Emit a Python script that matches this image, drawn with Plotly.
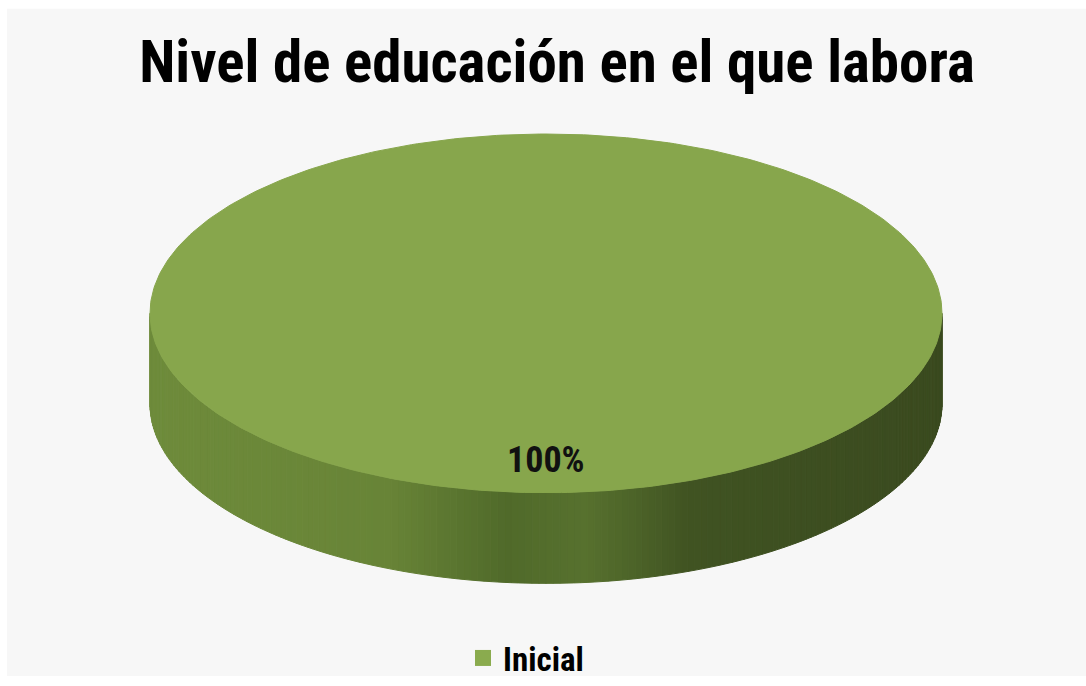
import numpy as np
import plotly.graph_objects as go

# ---- data ----
labels = ["Inicial"]
values = [100]
slice_colors = ["#87a64c"]
legend_colors = ["#8aab4e"]
title_text = "Nivel de educación en el que labora"

# ---- geometry / style (pixel space) ----
W, H = 1086, 686
cx, cy, rx, ry, depth = 546, 318, 396, 182, 92
FONT = "Liberation Sans Narrow, Arial Narrow, Roboto Condensed, Liberation Sans, sans-serif"

shade_stops = [(0.0, (0x6e, 0x8b, 0x3b)), (0.30, (0x68, 0x84, 0x37)),
               (0.45, (0x50, 0x6a, 0x2a)), (0.55, (0x57, 0x71, 0x2e)),
               (0.68, (0x40, 0x53, 0x22)), (1.0, (0x3a, 0x4a, 0x1f))]


def shade(u):
    u = min(max(u, 0.0), 1.0)
    for (u0, c0), (u1, c1) in zip(shade_stops[:-1], shade_stops[1:]):
        if u0 <= u <= u1:
            t = (u - u0) / (u1 - u0) if u1 > u0 else 0
            c = [round(a + (b - a) * t) for a, b in zip(c0, c1)]
            return "rgb(%d,%d,%d)" % tuple(c)
    return "rgb(%d,%d,%d)" % shade_stops[-1][1]


def pt(phi, dz=0.0):
    # phi measured clockwise from 12 o'clock
    return cx + rx * np.sin(phi), cy - ry * np.cos(phi) + dz


fig = go.Figure()
total = float(sum(values))
start = 0.0
slices = []
for lab, v, col in zip(labels, values, slice_colors):
    a0 = start
    a1 = start + 2 * np.pi * v / total
    slices.append((lab, v, col, a0, a1))
    start = a1

# walls (front half visible: phi in [pi/2, 3pi/2])
for lab, v, col, a0, a1 in slices:
    lo, hi = max(a0, np.pi / 2), min(a1, 3 * np.pi / 2)
    if hi <= lo:
        continue
    n = 180
    edges = np.linspace(lo, hi, n + 1)
    for p0, p1 in zip(edges[:-1], edges[1:]):
        ph = np.linspace(p0, p1, 4)
        xt, yt = pt(ph)
        xb, yb = pt(ph[::-1], depth)
        xs = np.concatenate([xt, xb, xt[:1]])
        ys = np.concatenate([yt, yb, yt[:1]])
        xm = cx + rx * np.sin((p0 + p1) / 2)
        c = shade((xm - (cx - rx)) / (2 * rx))
        fig.add_trace(go.Scatter(x=xs, y=ys, mode="lines", fill="toself",
                                 fillcolor=c, line=dict(color=c, width=1),
                                 hoverinfo="skip", showlegend=False))

# top faces
for lab, v, col, a0, a1 in slices:
    ph = np.linspace(a0, a1, 400)
    xt, yt = pt(ph)
    if a1 - a0 < 2 * np.pi - 1e-9:
        xt = np.concatenate([[cx], xt, [cx]])
        yt = np.concatenate([[cy], yt, [cy]])
    fig.add_trace(go.Scatter(x=xt, y=yt, mode="lines", fill="toself",
                             fillcolor=col, line=dict(color=col, width=1),
                             hoverinfo="skip", showlegend=False))
    mid = (a0 + a1) / 2
    lx, ly = cx + 0.0 * rx * np.sin(mid), cy - 0.82 * ry * np.cos(mid)
    fig.add_annotation(x=lx, y=ly, text="%d%%" % round(100 * v / total),
                       showarrow=False, xanchor="center", yanchor="middle",
                       font=dict(family=FONT, size=36, color="#111111", weight="bold"))

# legend entries
for lab, col in zip(labels, legend_colors):
    fig.add_trace(go.Scatter(x=[None], y=[None], mode="markers", name=lab,
                             marker=dict(symbol="square", size=18, color=col)))

fig.add_shape(type="rect", xref="paper", yref="paper", x0=7 / W, x1=1, y0=0, y1=1 - 9 / H,
              fillcolor="#f7f7f7", line=dict(width=0), layer="below")

fig.update_layout(
    width=W, height=H,
    margin=dict(l=0, r=0, t=0, b=0),
    paper_bgcolor="white", plot_bgcolor="rgba(0,0,0,0)",
    xaxis=dict(range=[0, W], visible=False, fixedrange=True),
    yaxis=dict(range=[H, 0], visible=False, fixedrange=True),
    title=dict(text=title_text, x=557 / W, xanchor="center", y=1 - 61 / H, yanchor="middle",
               font=dict(family=FONT, size=59, color="#000000", weight="bold")),
    showlegend=True,
    legend=dict(orientation="h", x=526 / W, xanchor="center", y=1 - 668 / H, yanchor="middle",
                bgcolor="rgba(0,0,0,0)",
                font=dict(family=FONT, size=33, color="#000000", weight="bold")),
)

fig.write_html("out.html", config={"displayModeBar": False},
               post_script="document.body.style.margin='0';document.body.style.overflow='hidden';")
